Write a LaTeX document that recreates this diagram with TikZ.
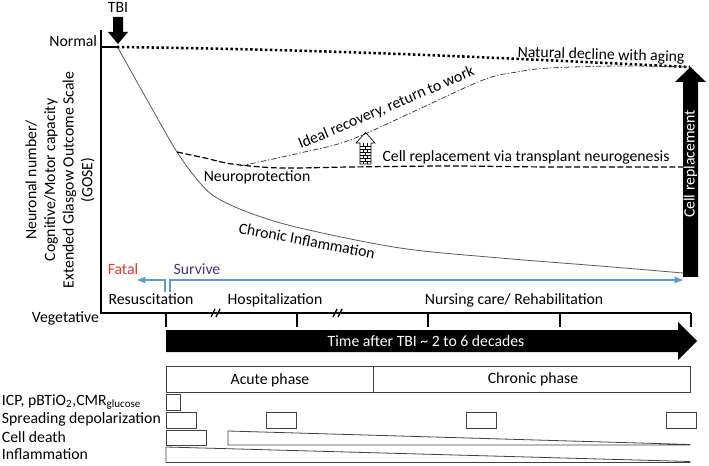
\documentclass[tikz,border=0pt]{standalone}
\usepackage{fontspec}
\setmainfont{Carlito}
\usetikzlibrary{arrows.meta}
\definecolor{blueline}{RGB}{91,155,213}
\definecolor{fatalred}{RGB}{232,56,40}
\definecolor{survblue}{RGB}{58,58,125}
\begin{document}
\begin{tikzpicture}[x=0.75pt,y=-0.75pt,
  txt/.style={font=\fontsize{11.8}{14}\selectfont, inner sep=0pt, outer sep=0pt},
  axis/.style={line width=1.3pt},
  tbox/.style={draw=black!75, line width=0.6pt},
  bluearrow/.style={draw=blueline, line width=1.4pt, -{Latex[length=7pt,width=5.5pt]}},
  curvegray/.style={draw=black!65, line width=0.6pt},
]
\useasboundingbox (0,0) rectangle (709,466);

% ---- axes ----
\draw[axis] (101,30) -- (101,313) -- (691,313);
\draw[axis] (101,47) -- (117,47);
\foreach \x in {166,297,428,560,691} \draw[line width=1.2pt] (\x,313) -- (\x,327);
\foreach \x in {216,338} {
  \draw[line width=1pt] (\x-5,317) -- (\x-1,309);
  \draw[line width=1pt] (\x,317) -- (\x+4,309);
}

\node[txt, anchor=base east] (normal) at (97,47) {Normal};
\node[txt, anchor=base east] (veg) at (99,322) {Vegetative};
\node[txt, anchor=base] (tbi) at (118,13) {TBI};
\node[txt, rotate=90, align=center] (ylab) at (60,180)
  {Neuronal number/\\Cognitive/Motor capacity\\Extended Glasgow Outcome Scale\\(GOSE)};

% TBI arrow
\fill (113,17) -- (123,17) -- (123,32) -- (128,32) -- (118,44) -- (108,32) -- (113,32) -- cycle;

% ---- curves ----
% natural decline (dotted)
\draw[line width=1.9pt, dash pattern=on 1.8pt off 1.9pt]
  (117,47) .. controls (350,50) and (500,58) .. (690,67);
% chronic inflammation (solid gray)
\draw[curvegray] plot[smooth, tension=0.55] coordinates
  {(118,48) (150,105) (177,152) (200,183) (217,198) (250,213) (300,228) (400,248) (500,258) (600,266) (683,273)};
% neuroprotection (dashed)
\draw[line width=0.9pt, dash pattern=on 4.5pt off 2pt] plot[smooth, tension=0.5] coordinates
  {(177,152) (205,158) (232,164) (280,168) (350,167) (450,166) (550,167) (683,167)};
% ideal recovery (dash-dot)
\draw[draw=black!75, line width=0.6pt, dash pattern=on 4pt off 1.5pt on 1pt off 1.5pt] plot[smooth, tension=0.6] coordinates
  {(240,166) (300,153) (350,140) (417,110) (483,80) (517,72) (550,68) (620,66) (690,67)};

% curve labels
\node[txt, anchor=base, rotate=-1.7] (natural) at (601,59.5) {Natural decline with aging};
\node[txt, anchor=base, rotate=23] (ideal) at (388,112) {Ideal recovery, return to work};
\node[txt, anchor=base] (neuro) at (257,182) {Neuroprotection};
\node[txt, anchor=base, rotate=-10.7] (chronic) at (306,246) {Chronic Inflammation};
\node[txt, anchor=base] (cellrep) at (526,162) {Cell replacement via transplant neurogenesis};

% brick arrow
\draw[line width=0.5pt] (360,164) -- (360,143) -- (356,143) -- (365.5,132.5) -- (375,143) -- (371,143) -- (371,164) -- cycle;
\foreach \k in {1,...,6} \draw[line width=0.35pt] (360,143+3*\k) -- (371,143+3*\k);
\foreach \k in {0,2,4,6} {
  \draw[line width=0.35pt] (363.7,143+3*\k) -- (363.7,146+3*\k);
  \draw[line width=0.35pt] (367.3,143+3*\k) -- (367.3,146+3*\k);
}
\foreach \k in {1,3,5} \draw[line width=0.35pt] (365.5,143+3*\k) -- (365.5,146+3*\k);

% cell replacement big arrow
\fill (683,277) -- (683,82) -- (675,82) -- (690.5,67) -- (706,82) -- (698,82) -- (698,277) -- cycle;
\node[txt, text=white, rotate=90] (cellrepv) at (690.5,164) {Cell replacement};

% ---- survival arrows ----
\coordinate (fatalstart) at (165,292);
\coordinate (fatalcorner) at (165,280);
\coordinate (fatalend) at (136,280);
\coordinate (survstart) at (170,292);
\coordinate (survcorner) at (170,280);
\coordinate (survend) at (684,280);
\draw[bluearrow] (fatalstart) -- (fatalcorner) -- (fatalend);
\draw[bluearrow] (survstart) -- (survcorner) -- (survend);
\node[txt, text=fatalred, anchor=base] (fatal) at (123,275) {Fatal};
\node[txt, text=survblue, anchor=base] (survive) at (197,275) {Survive};

\node[txt, anchor=base] (resus) at (151,304) {Resuscitation};
\node[txt, anchor=base] (hosp) at (275,304) {Hospitalization};
\node[txt, anchor=base] (nurs) at (514,304) {Nursing care/ Rehabilitation};

% ---- time arrow ----
\fill (166,330) -- (678,330) -- (678,322) -- (697,341) -- (678,360) -- (678,352) -- (166,352) -- cycle;
\node[txt, text=white] (time) at (426,341) {Time after TBI \textasciitilde{} 2 to 6 decades};

% ---- phase table ----
\draw[tbox] (166,366) rectangle (690,392);
\draw[tbox] (373,366) -- (373,392);
\node[txt, anchor=base] (acute) at (270,384) {Acute phase};
\node[txt, anchor=base] (chronicph) at (533,383) {Chronic phase};

\draw[tbox] (166,394) rectangle (180,410);
\foreach \x in {166,266,466,666} \draw[tbox] (\x,412) rectangle (\x+30,428);
\draw[tbox] (166,430) rectangle (206,445);
\draw[tbox] (228,431) -- (690,444.5) -- (690,445) -- (228,445) -- cycle;
\draw[tbox] (166,447) -- (690,461.5) -- (690,462.5) -- (166,462.5) -- cycle;

\node[txt, anchor=base west] (icp) at (2,405) {ICP, pBTiO\textsubscript{2},CMR\textsubscript{glucose}};
\node[txt, anchor=base west] (sd) at (2,423) {Spreading depolarization};
\node[txt, anchor=base west] (cd) at (2,442) {Cell death};
\node[txt, anchor=base west] (infl) at (2,459) {Inflammation};
\end{tikzpicture}
\end{document}
